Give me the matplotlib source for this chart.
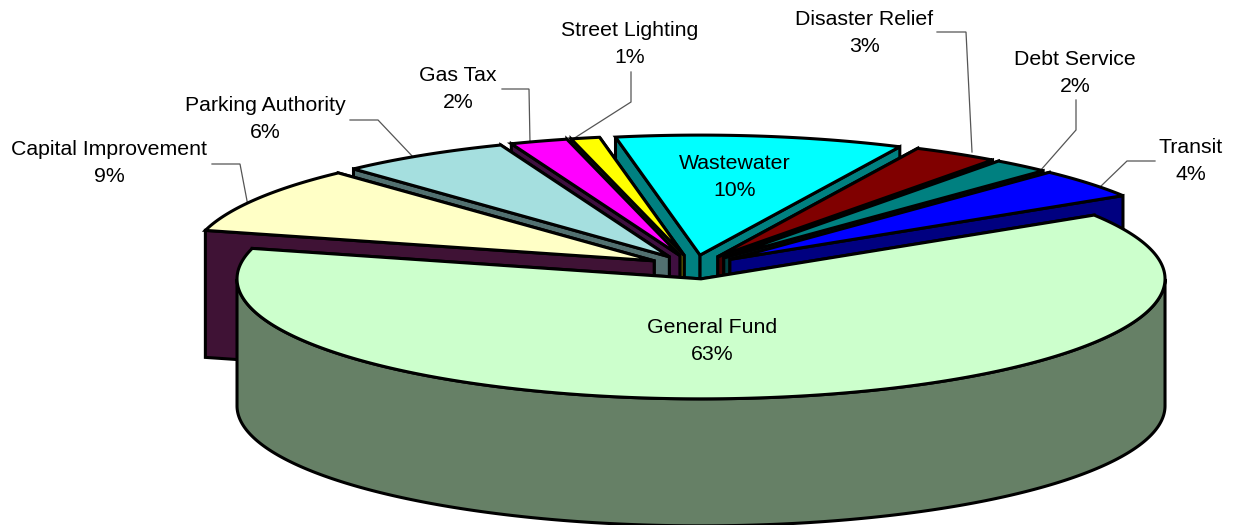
import numpy as np
import matplotlib
matplotlib.use("Agg")
import matplotlib.pyplot as plt
from matplotlib.patches import Polygon

plt.rcParams['font.family'] = ['Liberation Sans', 'DejaVu Sans']

# Fund shares, clockwise from the back of the pie
categories = ["Wastewater", "Disaster Relief", "Debt Service", "Transit", "General Fund",
              "Capital Improvement", "Parking Authority", "Gas Tax", "Street Lighting"]
shares = [10, 3, 2, 4, 63, 9, 6, 2, 1]
top_colors = ["#00FFFF", "#800000", "#008080", "#0000FF", "#CCFFCC",
              "#FFFFC6", "#A5DFDF", "#FF00FF", "#FFFF00"]
wall_colors = ["#008080", "#400000", "#004040", "#000080", "#668066",
               "#3F1235", "#527070", "#3F0F40", "#808000"]

# Label anchors (centre of the two text lines) in pixels
label_xy = [(735, 177), (864, 33), (1075, 73), (1191, 161), (712, 341),
            (109, 163), (265, 119), (458, 89), (630, 44)]

# Leader lines in pixels; empty when the label sits on its slice
leaders = [[], [(937, 32), (966, 32), (972, 152)], [(1076, 100), (1076, 130), (1040, 171)],
           [(1155, 161), (1127, 161), (1099, 188)], [],
           [(212, 164), (240, 164), (248, 206)], [(350, 120), (378, 120), (414, 158)],
           [(502, 89), (529, 89), (530, 143)], [(631, 72), (631, 102), (573, 139)]]

# Pie projection
CX, CY = 694, 267
RX, RY = 464, 120
DEPTH = 127
EXPLODE = 0.1
START_DEG = 100.5
EDGE_W = 2.2

fig = plt.figure(figsize=(12.35, 5.25), dpi=100)
ax = fig.add_axes([0, 0, 1, 1])
ax.set_xlim(0, 1235)
ax.set_ylim(525, 0)
ax.axis("off")


def arc_points(ox, oy, a0, a1):
    t = np.radians(np.linspace(a0, a1, max(int(abs(a1 - a0) * 2), 2)))
    return np.column_stack([ox + RX * np.cos(t), oy - RY * np.sin(t)])


def draw_slice(a0, a1, top, wall):
    mid = np.radians((a0 + a1) / 2)
    ox = CX + EXPLODE * RX * np.cos(mid)
    oy = CY - EXPLODE * RY * np.sin(mid)
    arc = arc_points(ox, oy, a0, a1)
    down = np.array([0, DEPTH])
    apex = np.array([ox, oy])
    kw = dict(edgecolor="black", linewidth=EDGE_W, joinstyle="miter", zorder=3)
    # Radial cut faces sit behind the rim; the one further back goes first
    corners = sorted((arc[0], arc[-1]), key=lambda p: p[1])
    for corner in corners:
        quad = np.array([apex, corner, corner + down, apex + down])
        ax.add_patch(Polygon(quad, closed=True, facecolor=wall, **kw))
    # Only the part of the rim facing the viewer gets extruded
    front_lo, front_hi = max(a0, -180), min(a1, 0)
    if front_hi > front_lo:
        rim = arc_points(ox, oy, front_lo, front_hi)
        ax.add_patch(Polygon(np.vstack([rim, (rim + down)[::-1]]), closed=True,
                             facecolor=wall, **kw))
    ax.add_patch(Polygon(np.vstack([apex, arc]), closed=True, facecolor=top, **kw))


# Slice angles run clockwise from the start angle
sweeps = np.array(shares) / sum(shares) * 360
ends = START_DEG - np.cumsum(sweeps)
starts = ends + sweeps
# Paint from the back of the pie towards the viewer
order = np.argsort(-np.sin(np.radians((starts + ends) / 2)))
for i in order:
    draw_slice(ends[i], starts[i], top_colors[i], wall_colors[i])

for path in leaders:
    if path:
        xs, ys = zip(*path)
        ax.plot(xs, ys, color="#555555", lw=0.9, zorder=2, solid_joinstyle="miter")

for name, share, (x, y) in zip(categories, shares, label_xy):
    ax.text(x, y, f"{name}\n{share}%", ha="center", va="center", fontsize=15.3,
            color="black", linespacing=1.5, zorder=5)

fig.savefig("out.png", dpi=100, facecolor="white")
